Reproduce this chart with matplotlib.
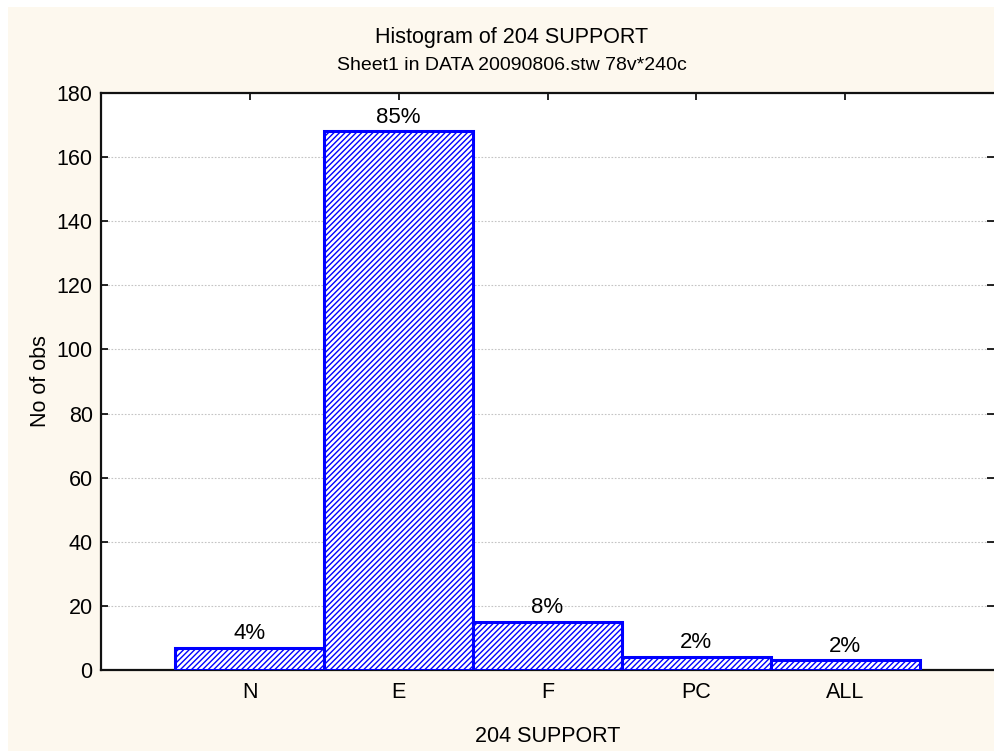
import matplotlib
matplotlib.use("Agg")
import matplotlib.pyplot as plt
from matplotlib.patches import Rectangle

# data
categories = ["N", "E", "F", "PC", "ALL"]
counts = [7, 168, 15, 4, 3]
pct_labels = ["4%", "85%", "8%", "2%", "2%"]
y_ticks = list(range(0, 181, 20))

plt.rcParams["font.family"] = ["Liberation Sans", "DejaVu Sans"]
plt.rcParams["hatch.linewidth"] = 1.0
plt.rcParams["hatch.color"] = "#0000ff"

cream = "#fdf8ee"
fig = plt.figure(figsize=(9.94, 7.51), dpi=100)
fig.patch.set_facecolor("white")
# cream panel with a thin white margin on left/top
fig.add_artist(Rectangle((8 / 994, 0), 1, 1 - 7 / 751, transform=fig.transFigure,
                         facecolor=cream, edgecolor="none", zorder=0))

ax = fig.add_axes([101 / 994, 81 / 751, 893 / 994, 577 / 751])
ax.set_facecolor("white")

x = list(range(len(categories)))
ax.bar(x, counts, width=1.0, facecolor="white", edgecolor="#0000ff",
       hatch="//////", linewidth=2.2, zorder=3)

for xi, c, lab in zip(x, counts, pct_labels):
    ax.text(xi, c + 1.2, lab, ha="center", va="bottom", fontsize=16, zorder=4)

ax.set_xlim(-1, 5)
ax.set_ylim(0, 180)
ax.set_xticks(x)
ax.set_xticklabels(categories, fontsize=15.5)
ax.set_yticks(y_ticks)
ax.set_yticklabels([str(v) for v in y_ticks], fontsize=15.5)
ax.tick_params(axis="both", direction="in", length=5, width=1.2,
               top=True, right=True)
ax.tick_params(axis="x", pad=9)
ax.tick_params(axis="y", pad=6)
ax.yaxis.grid(True, linestyle=(0, (1.5, 1.5)), color="#c4c4c4", linewidth=0.8, zorder=0)
ax.set_axisbelow(True)

for side in ["left", "bottom", "top"]:
    ax.spines[side].set_linewidth(1.6)
    ax.spines[side].set_color("#111111")
ax.spines["right"].set_visible(False)

ax.set_xlabel("204 SUPPORT", fontsize=15.5, labelpad=16)
ax.set_ylabel("No of obs", fontsize=15.5, labelpad=4)

fig.text(512 / 994, 1 - 37 / 751, "Histogram of 204 SUPPORT", ha="center", va="center", fontsize=15.5)
fig.text(512 / 994, 1 - 65 / 751, "Sheet1 in DATA 20090806.stw 78v*240c", ha="center", va="center", fontsize=14)

fig.savefig("out.png", dpi=100, facecolor=fig.get_facecolor())
